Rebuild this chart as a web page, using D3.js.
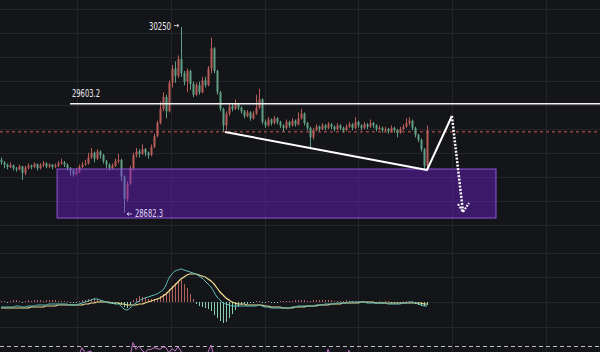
<!DOCTYPE html>
<html>
<head>
<meta charset="utf-8">
<script src="https://cdn.jsdelivr.net/npm/d3@7"></script>
<style>
  html, body { margin: 0; padding: 0; background: #141519; }
  svg { display: block; }
</style>
</head>
<body>
<div id="chart-area"></div>
<script>
var width = 600;
var height = 352;

// candles (open = previous close)
var firstOpen = 29130;
var closes = [
  29110, 29090, 29070, 29085, 29060, 29050, 29075, 29020, 29065, 29080,
  29070, 29095, 29060, 29085, 29100, 29075, 29090, 29070, 29080, 29100,
  29110, 29090, 29060, 29040, 29010, 29030, 29070, 29090, 29100, 29150,
  29190, 29140, 29200, 29170, 29120, 29090, 29060, 29080, 29120, 29130,
  28990, 28800, 28930, 29060, 29170, 29200, 29180, 29220, 29190, 29170,
  29240, 29330, 29440, 29560, 29660, 29540, 29780, 29900, 29840, 29980,
  29860, 29790, 29880, 29770, 29680, 29760, 29700, 29800, 29760, 29900,
  30070, 29880, 29700, 29560, 29420, 29520, 29580, 29560, 29600, 29570,
  29540, 29500, 29530, 29480, 29520, 29570, 29640, 29450, 29420, 29470,
  29440, 29480, 29450, 29420, 29400, 29450, 29420, 29460, 29430, 29480,
  29520, 29440, 29400, 29320, 29380, 29410, 29390, 29420, 29400, 29430,
  29410, 29390, 29420, 29400, 29380, 29410, 29430, 29400, 29450, 29420,
  29400, 29430, 29410, 29440, 29420, 29390, 29400, 29380, 29390, 29370,
  29400, 29380, 29360, 29390, 29410, 29440, 29460, 29400, 29340, 29300,
  29220, 29080, 29380
];
var highs = [
  29150, 29120, 29100, 29110, 29090, 29070, 29090, 29080, 29080, 29100,
  29090, 29110, 29100, 29100, 29120, 29110, 29100, 29095, 29100, 29120,
  29140, 29120, 29100, 29070, 29050, 29060, 29090, 29110, 29130, 29190,
  29230, 29200, 29220, 29210, 29180, 29130, 29100, 29100, 29140, 29180,
  29140, 29000, 28950, 29080, 29190, 29230, 29220, 29260, 29230, 29200,
  29260, 29350, 29460, 29620, 29700, 29680, 29800, 29930, 29960, 30010,
  30250, 29880, 29900, 29890, 29790, 29780, 29790, 29830, 29830, 29920,
  30160, 30080, 29890, 29710, 29570, 29540, 29600, 29600, 29640, 29610,
  29580, 29550, 29550, 29540, 29540, 29680, 29730, 29650, 29470, 29490,
  29480, 29500, 29490, 29460, 29430, 29470, 29460, 29480, 29470, 29530,
  29560, 29530, 29450, 29410, 29400, 29430, 29420, 29440, 29430, 29450,
  29440, 29420, 29440, 29430, 29410, 29430, 29450, 29440, 29490, 29460,
  29430, 29450, 29440, 29470, 29450, 29430, 29420, 29410, 29410, 29400,
  29420, 29410, 29390, 29410, 29430, 29480, 29490, 29470, 29410, 29350,
  29310, 29230, 29420
];
var lows = [
  29090, 29060, 29050, 29060, 29040, 29030, 29040, 28960, 29000, 29050,
  29050, 29060, 29040, 29050, 29070, 29060, 29060, 29050, 29060, 29070,
  29090, 29070, 29040, 29000, 28990, 29000, 29020, 29060, 29080, 29090,
  29140, 29110, 29130, 29140, 29100, 29060, 29040, 29050, 29070, 29100,
  28950, 28685, 28780, 28920, 29040, 29150, 29150, 29170, 29160, 29140,
  29160, 29230, 29320, 29430, 29540, 29480, 29530, 29740, 29780, 29820,
  29830, 29760, 29700, 29720, 29660, 29670, 29680, 29690, 29740, 29750,
  29860, 29860, 29680, 29540, 29370, 29380, 29500, 29540, 29550, 29550,
  29520, 29480, 29490, 29460, 29470, 29510, 29560, 29430, 29400, 29410,
  29420, 29430, 29430, 29400, 29370, 29390, 29400, 29410, 29410, 29420,
  29470, 29420, 29380, 29230, 29300, 29370, 29370, 29380, 29380, 29390,
  29390, 29370, 29380, 29380, 29360, 29370, 29400, 29380, 29390, 29400,
  29380, 29390, 29390, 29400, 29400, 29370, 29380, 29360, 29370, 29350,
  29360, 29360, 29320, 29350, 29380, 29400, 29420, 29380, 29320, 29280,
  29200, 29050, 29060
];

// MACD lines and histogram
var dif = [
  -5, -5, -5, -5, -5, -4, -4, -5, -5, -4,
  -4, -4, -3, -3, -3, -3, -2, -2, -2, -2,
  -2, -2, -2, -3, -3, -3, -2, -1, 0, 1,
  2, 3, 3, 2, 1, 0, -1, -1, -2, -2,
  -4, -7, -8, -6, -3, -1, 1, 3, 4, 5,
  6, 7, 8, 10, 12, 17, 24, 28, 31, 32,
  33, 32, 31, 30, 29, 28, 26, 24, 21, 18,
  15, 10, 5, 2, -1, -2, -3, -4, -4, -4,
  -4, -4, -4, -4, -4, -4, -3, -4, -5, -5,
  -6, -6, -6, -6, -6, -6, -6, -5, -5, -4,
  -4, -4, -4, -4, -4, -3, -3, -3, -2, -2,
  -2, -2, -1, -1, -1, -1, 0, 0, 0, 0,
  0, 0, -1, -1, -1, -1, -1, -1, -1, -2,
  -2, -2, -2, -2, -1, -1, 0, 0, -1, -2,
  -3, -4, -4
];
var dea = [
  -6, -6, -6, -6, -6, -6, -6, -6, -6, -6,
  -5, -5, -5, -5, -5, -4, -4, -4, -4, -3,
  -3, -3, -3, -3, -3, -3, -3, -3, -2, -2,
  -1, -1, 0, 0, 0, 0, 0, -1, -1, -1,
  -2, -2, -3, -3, -3, -3, -2, -2, -1, 0,
  1, 2, 3, 4, 6, 8, 11, 14, 17, 20,
  23, 25, 27, 28, 28, 28, 27, 26, 25, 23,
  21, 18, 14, 10, 7, 4, 2, 0, -1, -2,
  -2, -2, -3, -3, -3, -3, -3, -3, -4, -4,
  -5, -5, -5, -5, -6, -6, -6, -6, -5, -5,
  -5, -5, -4, -4, -4, -4, -3, -3, -3, -3,
  -2, -2, -2, -2, -1, -1, -1, -1, -1, -1,
  0, 0, 0, 0, 0, -1, -1, -1, -1, -1,
  -1, -1, -1, -1, -1, -1, -1, -1, -1, -1,
  -1, -2, -2
];
var hist = [
  1, 1, -1, 1, 2, 2, 1, -1, 1, 2,
  1, 2, 2, 2, 1, 2, 2, 2, 2, 1,
  1, 1, 1, -1, -1, -1, 1, 2, 2, 3,
  3, 4, 3, 2, 1, -1, -1, -2, -2, -2,
  -3, -5, -6, -3, 2, 4, 6, 5, 4, 3,
  3, 3, 4, 6, 8, 10, 13, 16, 19, 21,
  22, 18, 14, 8, 3, -2, -4, -5, -6, -7,
  -9, -13, -16, -19, -21, -20, -16, -12, -8, -5,
  -3, -2, -2, -1, -1, 1, 1, -1, -1, 1,
  -1, -1, -1, 1, 1, 1, 1, 1, 2, 2,
  2, 2, 1, 1, 2, 2, 2, 2, 2, 2,
  2, 1, 1, 1, 1, 2, 1, 1, 1, 1,
  1, 1, -1, -1, -1, -1, 1, -1, 1, 1,
  -1, -1, -1, -1, 1, 1, 1, 1, -2, -3,
  -4, -4, -3
];

// RSI (only its peaks show at the bottom edge)
var rsi = [
  52, 50, 48, 50, 47, 46, 49, 44, 48, 51,
  50, 53, 49, 52, 54, 51, 53, 50, 52, 55,
  56, 53, 49, 47, 45, 48, 60, 68, 62, 63,
  64, 57, 62, 58, 53, 50, 47, 50, 54, 55,
  42, 32, 45, 58, 74, 66, 70, 65, 62, 66,
  66, 68, 67, 66, 69, 68, 62, 67, 64, 69,
  64, 58, 62, 56, 52, 58, 55, 60, 57, 63,
  71, 58, 50, 44, 40, 45, 50, 49, 53, 51,
  49, 47, 50, 46, 50, 55, 60, 45, 43, 48,
  46, 50, 47, 44, 43, 48, 46, 50, 48, 53,
  56, 48, 45, 40, 46, 50, 48, 52, 55, 66,
  58, 50, 53, 50, 47, 52, 65, 50, 58, 52,
  49, 53, 50, 54, 51, 47, 49, 46, 48, 45,
  50, 47, 44, 49, 52, 57, 60, 50, 42, 38,
  36, 32, 55
];

// price levels and labels
var levelPrice = 29603.2;
var highPrice = 30250;
var lowPrice = 28682.3;
var lastPrice = 29368;

// annotations: [candle index, price]
var zoneIdx = [18.7, 165];
var zonePrice = [28640, 29053];
var trendPts = [[74.7, 29365], [142, 29045], [150.3, 29500]];
var arrowPts = [[150.3, 29500], [154, 28691]];

var candles = closes.map(function(c, i) {
  return {
    i: i,
    open: i === 0 ? firstOpen : closes[i - 1],
    close: c,
    high: highs[i],
    low: lows[i]
  };
});

var svg = d3.select("#chart-area")
  .append("svg")
  .attr("width", width)
  .attr("height", height);

svg.append("rect")
  .attr("width", width)
  .attr("height", height)
  .attr("fill", "#141519");

// scales
var x = d3.scaleLinear().domain([0, closes.length - 1]).range([1, 427]);
var y = d3.scaleLinear().domain([lowPrice, highPrice]).range([213, 27]);
var yMacd = d3.scaleLinear().domain([-40, 40]).range([342, 262]);
var yRsi = d3.scaleLinear().domain([30, 70]).range([380, 346]);

var upColor = "#b85c58";
var downColor = "#5fa084";

// grid
var grid = svg.append("g").attr("stroke", "#23252a").attr("stroke-width", 1);
d3.range(6).forEach(function(k) {
  var gx = Math.round(77 + k * 93.8) + 0.5;
  grid.append("line").attr("x1", gx).attr("x2", gx).attr("y1", 0).attr("y2", height);
});
d3.range(9, 230, 24).concat([253, 277, 302, 327]).forEach(function(gy) {
  grid.append("line").attr("x1", 0).attr("x2", width).attr("y1", gy + 0.5).attr("y2", gy + 0.5);
});

// last price line
svg.append("line")
  .attr("x1", 0).attr("x2", width)
  .attr("y1", y(lastPrice)).attr("y2", y(lastPrice))
  .attr("stroke", "#94423f")
  .attr("stroke-width", 1.5)
  .attr("stroke-dasharray", "3,3");

// candles
var cg = svg.selectAll("g.candle")
  .data(candles)
  .enter()
  .append("g")
  .attr("class", "candle");

cg.append("line")
  .attr("x1", function(d) { return Math.round(x(d.i)) + 0.5; })
  .attr("x2", function(d) { return Math.round(x(d.i)) + 0.5; })
  .attr("y1", function(d) { return y(d.high); })
  .attr("y2", function(d) { return y(d.low); })
  .attr("stroke", function(d) { return d.close >= d.open ? upColor : downColor; })
  .attr("stroke-width", 1);

cg.append("rect")
  .attr("x", function(d) { return Math.round(x(d.i)) - 0.5; })
  .attr("width", 2)
  .attr("y", function(d) { return y(Math.max(d.open, d.close)); })
  .attr("height", function(d) {
    return Math.max(1, Math.abs(y(d.open) - y(d.close)));
  })
  .attr("fill", function(d) { return d.close >= d.open ? upColor : downColor; });

// purple zone
svg.append("rect")
  .attr("x", x(zoneIdx[0]))
  .attr("y", y(zonePrice[1]))
  .attr("width", x(zoneIdx[1]) - x(zoneIdx[0]))
  .attr("height", y(zonePrice[0]) - y(zonePrice[1]))
  .attr("fill", "rgba(116, 34, 218, 0.42)")
  .attr("stroke", "#8d58d8")
  .attr("stroke-width", 1);

// level line
svg.append("line")
  .attr("x1", 70).attr("x2", width)
  .attr("y1", y(levelPrice)).attr("y2", y(levelPrice))
  .attr("stroke", "#f2f2f2")
  .attr("stroke-width", 1.5);

svg.append("text")
  .attr("x", 72)
  .attr("y", y(levelPrice) - 6.5)
  .attr("font-family", "DejaVu Sans")
  .attr("font-size", 10)
  .attr("textLength", 28)
  .attr("lengthAdjust", "spacingAndGlyphs")
  .attr("fill", "#ececec")
  .text(levelPrice.toFixed(1));

// high / low labels with small pointer arrows
function pointer(x0, x1, yy, color) {
  var dir = x1 > x0 ? 1 : -1;
  svg.append("path")
    .attr("d", "M" + x0 + "," + yy + "L" + x1 + "," + yy +
      "M" + (x1 - dir * 2) + "," + (yy - 1.5) + "L" + x1 + "," + yy +
      "L" + (x1 - dir * 2) + "," + (yy + 1.5))
    .attr("fill", "none")
    .attr("stroke", color)
    .attr("stroke-width", 1);
}

svg.append("text")
  .attr("x", x(60) - 10)
  .attr("y", y(highPrice) + 3)
  .attr("text-anchor", "end")
  .attr("font-family", "DejaVu Sans")
  .attr("font-size", 10)
  .attr("textLength", 22)
  .attr("lengthAdjust", "spacingAndGlyphs")
  .attr("fill", "#ececec")
  .text(highPrice);
pointer(x(60) - 7, x(60) - 2, y(highPrice) - 1.5, "#bdbdbd");

pointer(x(41) + 8, x(41) + 3, y(lowPrice) + 1, "#cfc4ee");
svg.append("text")
  .attr("x", x(41) + 11)
  .attr("y", y(lowPrice) + 4)
  .attr("font-family", "DejaVu Sans")
  .attr("font-size", 10)
  .attr("textLength", 28)
  .attr("lengthAdjust", "spacingAndGlyphs")
  .attr("fill", "#dcd2f6")
  .text(lowPrice.toFixed(1));

// trend lines
var line = d3.line()
  .x(function(d) { return x(d[0]); })
  .y(function(d) { return y(d[1]); });

svg.append("path")
  .attr("d", line(trendPts))
  .attr("fill", "none")
  .attr("stroke", "#ffffff")
  .attr("stroke-width", 2)
  .attr("stroke-linejoin", "round");

svg.append("path")
  .attr("d", line(arrowPts))
  .attr("fill", "none")
  .attr("stroke", "#ffffff")
  .attr("stroke-width", 2.5)
  .attr("stroke-dasharray", "2,1.5");

var tip = arrowPts[1];
svg.append("path")
  .attr("d", "M" + (x(tip[0]) - 5) + "," + (y(tip[1]) - 8) +
    "L" + x(tip[0]) + "," + y(tip[1]) +
    "L" + (x(tip[0]) + 6) + "," + (y(tip[1]) - 9))
  .attr("fill", "none")
  .attr("stroke", "#ffffff")
  .attr("stroke-width", 2)
  .attr("stroke-dasharray", "2,1.2");

// MACD histogram
svg.selectAll("rect.hist")
  .data(hist)
  .enter()
  .append("rect")
  .attr("class", "hist")
  .attr("x", function(d, i) { return Math.round(x(i)); })
  .attr("width", 1)
  .attr("y", function(d) { return d >= 0 ? yMacd(d) : yMacd(0); })
  .attr("height", function(d) { return Math.abs(yMacd(d) - yMacd(0)); })
  .attr("fill", function(d) { return d >= 0 ? "#b5625f" : "#86cdb0"; });

var macdLine = d3.line()
  .x(function(d, i) { return x(i); })
  .y(function(d) { return yMacd(d); })
  .curve(d3.curveMonotoneX);

svg.append("path")
  .attr("d", macdLine(dea))
  .attr("fill", "none")
  .attr("stroke", "#ecd98e")
  .attr("stroke-width", 1.2);

svg.append("path")
  .attr("d", macdLine(dif))
  .attr("fill", "none")
  .attr("stroke", "#5fc0bd")
  .attr("stroke-width", 1);

// bottom separator and RSI
svg.append("line")
  .attr("x1", 0).attr("x2", width)
  .attr("y1", 346.5).attr("y2", 346.5)
  .attr("stroke", "#bdbdbd")
  .attr("stroke-width", 1)
  .attr("stroke-dasharray", "4,3");

svg.append("path")
  .attr("d", d3.line()
    .x(function(d, i) { return x(i); })
    .y(function(d) { return yRsi(d); })(rsi))
  .attr("fill", "none")
  .attr("stroke", "#c274c6")
  .attr("stroke-width", 1);
</script>
</body>
</html>
